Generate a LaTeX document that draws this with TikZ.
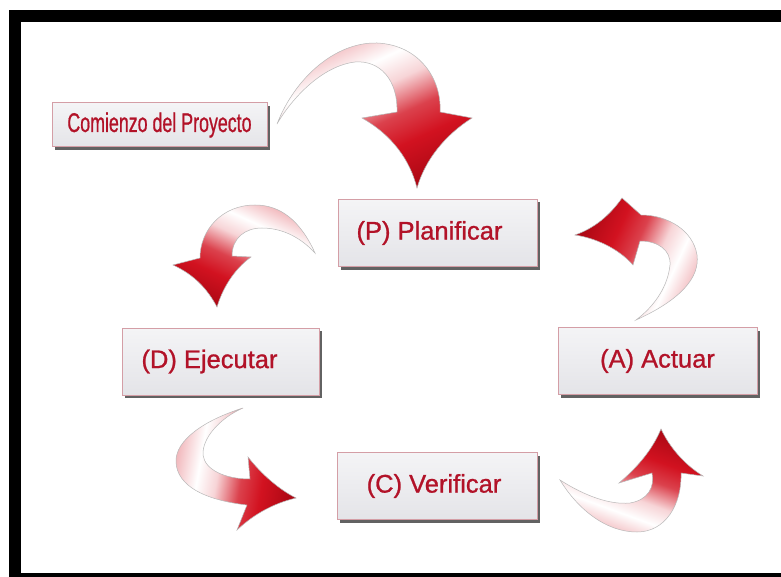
\documentclass[tikz,border=0pt]{standalone}
\usepackage{graphicx}
\usepackage{fontspec}
\setmainfont{Liberation Sans}
\newfontfamily\boxfont{Liberation Sans}[FakeBold=1]
\usetikzlibrary{shadows}
\definecolor{ared}{RGB}{210,18,32}
\definecolor{adark}{RGB}{172,8,20}
\definecolor{txt}{RGB}{178,18,40}
\definecolor{boxtop}{RGB}{244,244,246}
\definecolor{boxbot}{RGB}{228,228,232}
\definecolor{boxline}{RGB}{212,158,166}
\pgfdeclareverticalshading{arrowfade}{100bp}{color(0bp)=(adark); color(25bp)=(adark); color(38bp)=(ared); color(47bp)=(ared!80!white); color(57bp)=(ared!18!white); color(65bp)=(white); color(75bp)=(ared!30!white); color(100bp)=(ared!30!white)}
\tikzset{
  stage/.style={rectangle, draw=boxline, line width=1pt, top color=boxtop, bottom color=boxbot,
    minimum width=199pt, minimum height=67pt, inner sep=0pt, text=txt,
    font=\boxfont\fontsize{25.5}{30}\selectfont,
    drop shadow={shadow xshift=3pt, shadow yshift=-3pt, fill=black!72, opacity=0.85}},
  flow/.style={shade, shading=arrowfade, draw=black!28, line width=0.5pt},
}
\begin{document}
\begin{tikzpicture}[x=1pt, y=-1pt]
\useasboundingbox (0,0) rectangle (781,577);
\fill[white] (0,0) rectangle (781,577);
\fill[black] (9,10) rectangle (781,577);
\fill[white] (21,22) rectangle (781,573);

% nodes
\node[stage, minimum width=215pt, minimum height=44pt, font=\boxfont\fontsize{27}{30}\selectfont] (S) at (159.5,125) {\scalebox{0.66}[1]{Comienzo del Proyecto}};
\node[stage] (P) at (437.5,233) {\hspace*{-16pt}(P) Planificar};
\node[stage, minimum width=197pt] (D) at (220.5,361.5) {\hspace*{-22pt}(D) Ejecutar};
\node[stage] (A) at (657.5,361) {(A) Actuar};
\node[stage, minimum width=200pt] (C) at (437,486) {\hspace*{-6pt}(C) Verificar};

% S -> P
\path[flow, shading angle=25] (277,124) .. controls (295,78) and (335,42) .. (377,43)
  .. controls (420,45) and (442,80) .. (440,112) -- (472,118)
  .. controls (445,135) and (425,160) .. (417,188)
  .. controls (410,160) and (392,135) .. (362,118) -- (397,112)
  .. controls (398,80) and (380,60) .. (355,62)
  .. controls (322,66) and (292,98) .. cycle;
% P -> D
\path[flow, shading angle=-25] (315,253) .. controls (300,220) and (280,205) .. (255,205)
  .. controls (222,205) and (200,230) .. (200,258) -- (173,265)
  .. controls (195,275) and (208,290) .. (217,307)
  .. controls (222,290) and (233,270) .. (251,257) -- (232,256)
  .. controls (232,238) and (245,228) .. (262,228)
  .. controls (285,228) and (303,240) .. cycle;
% D -> C
\path[flow, shading angle=80] (243,408) .. controls (205,420) and (175,440) .. (176,462)
  .. controls (177,486) and (205,500) .. (247,505) -- (237,530)
  .. controls (255,513) and (275,503) .. (296,498)
  .. controls (280,490) and (262,475) .. (248,457) -- (250,479)
  .. controls (225,479) and (205,470) .. (203,455)
  .. controls (202,438) and (220,418) .. cycle;
% C -> A
\path[flow, shading angle=160] (560,480) .. controls (585,496) and (610,505) .. (630,503)
  .. controls (648,500) and (655,487) .. (652,473) -- (619,483)
  .. controls (640,465) and (653,448) .. (661,429)
  .. controls (670,448) and (685,465) .. (703,476) -- (681,473)
  .. controls (682,505) and (665,532) .. (637,532)
  .. controls (605,532) and (577,508) .. cycle;
% A -> P
\path[flow, shading angle=-115] (636,320) .. controls (680,300) and (700,278) .. (697,255)
  .. controls (693,230) and (667,215) .. (641,215) -- (622,198)
  .. controls (610,215) and (595,228) .. (575,235)
  .. controls (595,238) and (618,248) .. (633,265) -- (640,241)
  .. controls (658,241) and (671,250) .. (670,265)
  .. controls (668,285) and (656,305) .. cycle;
\end{tikzpicture}
\end{document}
